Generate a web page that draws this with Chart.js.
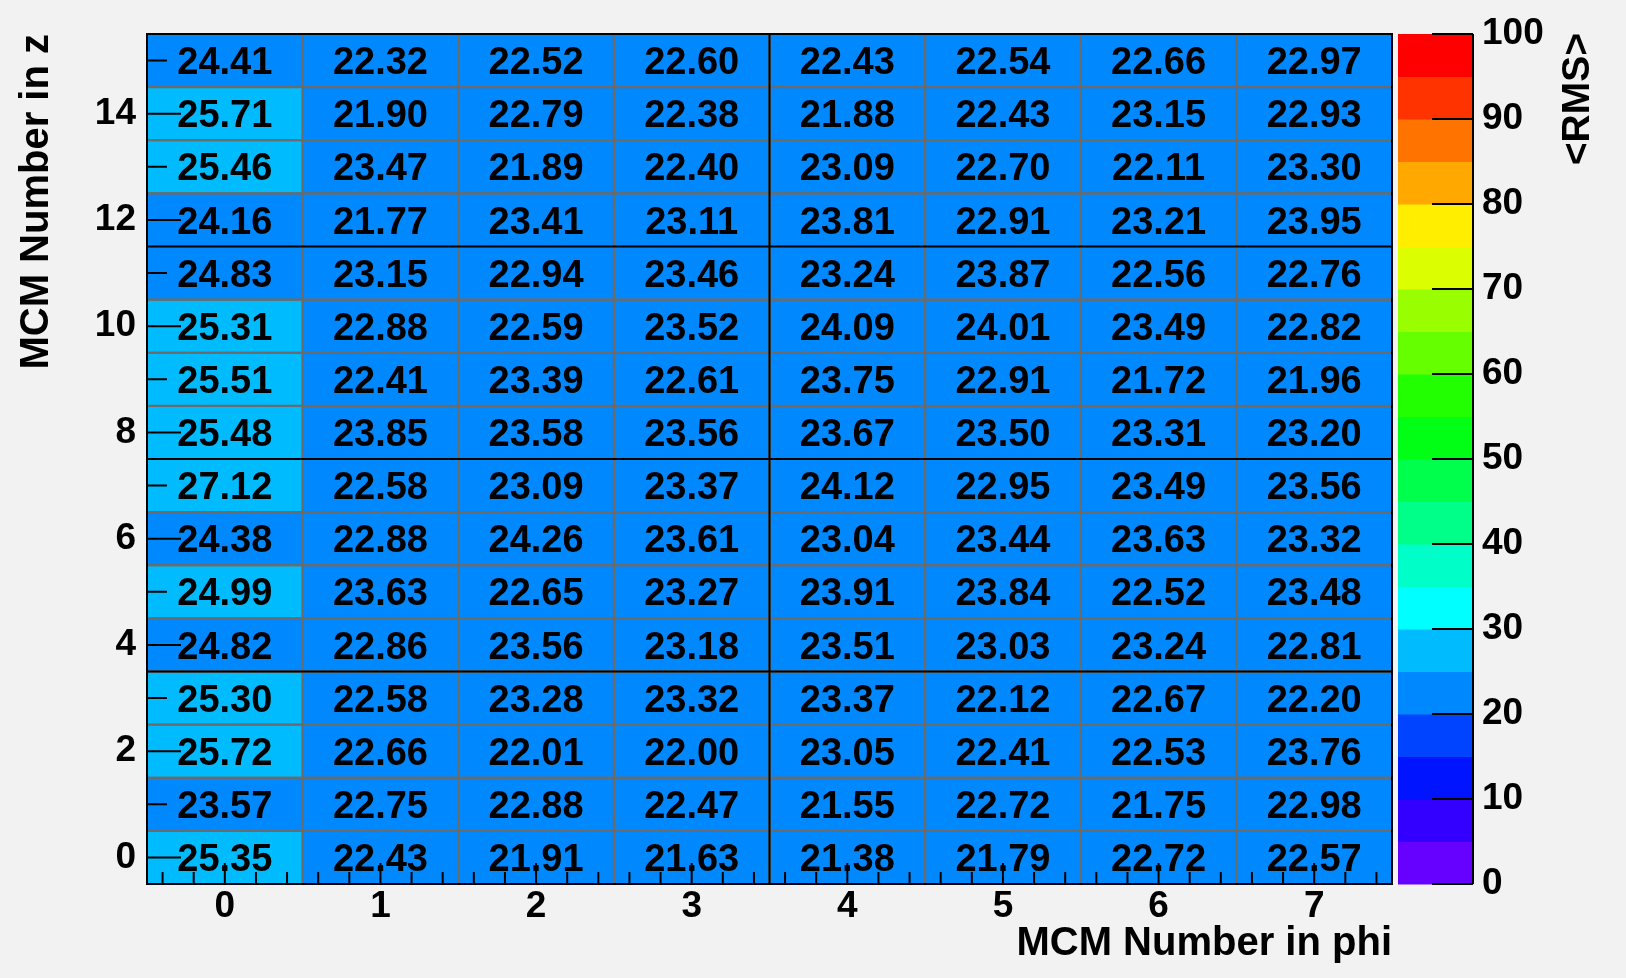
<!DOCTYPE html>
<html>
<head>
<meta charset="utf-8">
<title>MCM RMS map</title>
<script src="https://cdn.jsdelivr.net/npm/chart.js@4.4.1/dist/chart.umd.min.js"></script>
<style>
  html, body { margin: 0; padding: 0; background: #f2f2f2; }
</style>
</head>
<body>
<canvas id="rmsMap" width="1626" height="978"></canvas>
<script>
const phiBins = [0, 1, 2, 3, 4, 5, 6, 7];
const zBins = [0, 1, 2, 3, 4, 5, 6, 7, 8, 9, 10, 11, 12, 13, 14, 15];

// <RMS> per MCM, one row per z, phi 0..7
const z15 = [24.41, 22.32, 22.52, 22.60, 22.43, 22.54, 22.66, 22.97];
const z14 = [25.71, 21.90, 22.79, 22.38, 21.88, 22.43, 23.15, 22.93];
const z13 = [25.46, 23.47, 21.89, 22.40, 23.09, 22.70, 22.11, 23.30];
const z12 = [24.16, 21.77, 23.41, 23.11, 23.81, 22.91, 23.21, 23.95];
const z11 = [24.83, 23.15, 22.94, 23.46, 23.24, 23.87, 22.56, 22.76];
const z10 = [25.31, 22.88, 22.59, 23.52, 24.09, 24.01, 23.49, 22.82];
const z9  = [25.51, 22.41, 23.39, 22.61, 23.75, 22.91, 21.72, 21.96];
const z8  = [25.48, 23.85, 23.58, 23.56, 23.67, 23.50, 23.31, 23.20];
const z7  = [27.12, 22.58, 23.09, 23.37, 24.12, 22.95, 23.49, 23.56];
const z6  = [24.38, 22.88, 24.26, 23.61, 23.04, 23.44, 23.63, 23.32];
const z5  = [24.99, 23.63, 22.65, 23.27, 23.91, 23.84, 22.52, 23.48];
const z4  = [24.82, 22.86, 23.56, 23.18, 23.51, 23.03, 23.24, 22.81];
const z3  = [25.30, 22.58, 23.28, 23.32, 23.37, 22.12, 22.67, 22.20];
const z2  = [25.72, 22.66, 22.01, 22.00, 23.05, 22.41, 22.53, 23.76];
const z1  = [23.57, 22.75, 22.88, 22.47, 21.55, 22.72, 21.75, 22.98];
const z0  = [25.35, 22.43, 21.91, 21.63, 21.38, 21.79, 22.72, 22.57];
const rmsByZ = [z0, z1, z2, z3, z4, z5, z6, z7, z8, z9, z10, z11, z12, z13, z14, z15];

// labelled ticks
const phiTicks = [0, 1, 2, 3, 4, 5, 6, 7];
const zTicks = [0, 2, 4, 6, 8, 10, 12, 14];
const rmsTicks = [0, 10, 20, 30, 40, 50, 60, 70, 80, 90, 100];

const rmsMin = 0;
const rmsMax = 100;
const nLevels = 20;

// rainbow palette, one colour per contour level
const palette = [
  '#6600ff', '#3300ff', '#0014ff', '#0044ff', '#0088ff',
  '#00bcff', '#00ffff', '#00ffc8', '#00ff88', '#00ff4c',
  '#00ff14', '#22ff00', '#66ff00', '#99ff00', '#dcff00',
  '#ffee00', '#ffa800', '#ff7400', '#ff3300', '#ff0000'
];

function levelOf(v) {
  const lvl = Math.floor(0.01 + (v - rmsMin) * nLevels / (rmsMax - rmsMin));
  return Math.max(0, Math.min(nLevels - 1, lvl));
}

const FONT = '"Liberation Sans", Arial, sans-serif';

const points = [];
zBins.forEach((z, iz) => {
  phiBins.forEach((phi, ip) => {
    points.push({ x: phi, y: z, v: rmsByZ[iz][ip] });
  });
});

const fixedTicks = list => scale => { scale.ticks = list.map(v => ({ value: v })); };

const mapPlugin = {
  id: 'mcmMap',
  beforeDatasetsDraw(chart) {
    const ctx = chart.ctx;
    const { x, y, rms } = chart.scales;
    const area = chart.chartArea;
    const cells = chart.data.datasets[0].data;
    ctx.save();

    // cells
    cells.forEach(p => {
      const x0 = x.getPixelForValue(p.x - 0.5), x1 = x.getPixelForValue(p.x + 0.5);
      const y0 = y.getPixelForValue(p.y + 0.5), y1 = y.getPixelForValue(p.y - 0.5);
      ctx.fillStyle = palette[levelOf(p.v)];
      ctx.fillRect(x0, y0, x1 - x0, y1 - y0);
    });
    ctx.strokeStyle = '#6b6b6b';
    ctx.lineWidth = 2;
    cells.forEach(p => {
      const x0 = x.getPixelForValue(p.x - 0.5), x1 = x.getPixelForValue(p.x + 0.5);
      const y0 = y.getPixelForValue(p.y + 0.5), y1 = y.getPixelForValue(p.y - 0.5);
      ctx.strokeRect(x0, y0, x1 - x0, y1 - y0);
    });

    // chamber boundaries
    ctx.strokeStyle = '#000';
    ctx.lineWidth = 2;
    ctx.beginPath();
    [3.5, 7.5, 11.5].forEach(zb => {
      const py = y.getPixelForValue(zb);
      ctx.moveTo(area.left, py); ctx.lineTo(area.right, py);
    });
    const px = x.getPixelForValue(3.5);
    ctx.moveTo(px, area.top); ctx.lineTo(px, area.bottom);
    ctx.stroke();

    // values
    ctx.fillStyle = '#000';
    ctx.font = 'bold 38px ' + FONT;
    ctx.textAlign = 'center';
    ctx.textBaseline = 'alphabetic';
    cells.forEach(p => {
      ctx.fillText(p.v.toFixed(2), x.getPixelForValue(p.x), y.getPixelForValue(p.y) + 13.6);
    });

    // frame
    ctx.strokeStyle = '#000';
    ctx.lineWidth = 2;
    ctx.strokeRect(area.left, area.top, area.right - area.left, area.bottom - area.top);

    // inner ticks
    ctx.beginPath();
    zBins.forEach(z => {
      const py = y.getPixelForValue(z);
      ctx.moveTo(area.left, py);
      ctx.lineTo(area.left + (z % 2 === 0 ? 34 : 20), py);
    });
    for (let i = -2; i <= 37; i++) {
      const pxt = x.getPixelForValue(i / 5);
      ctx.moveTo(pxt, area.bottom);
      ctx.lineTo(pxt, area.bottom - (i % 5 === 0 ? 21 : 12));
    }
    ctx.stroke();

    // colour scale
    const barLeft = area.right + 6;
    const barRight = area.right + 81;
    for (let i = 0; i < nLevels; i++) {
      const lo = rmsMin + i * (rmsMax - rmsMin) / nLevels;
      const hi = rmsMin + (i + 1) * (rmsMax - rmsMin) / nLevels;
      const yTop = rms.getPixelForValue(hi), yBot = rms.getPixelForValue(lo);
      ctx.fillStyle = palette[i];
      ctx.fillRect(barLeft, yTop, barRight - barLeft, yBot - yTop + 0.5);
    }
    ctx.strokeStyle = '#000';
    ctx.lineWidth = 2;
    ctx.beginPath();
    ctx.moveTo(barRight, rms.getPixelForValue(rmsMax));
    ctx.lineTo(barRight, rms.getPixelForValue(rmsMin));
    rms.ticks.forEach(t => {
      const py = rms.getPixelForValue(t.value);
      ctx.moveTo(barRight, py);
      ctx.lineTo(barRight - 41, py);
    });
    ctx.stroke();

    // colour scale title, reading upwards
    ctx.save();
    ctx.translate(1578, area.top - 1);
    ctx.rotate(-Math.PI / 2);
    ctx.fillStyle = '#000';
    ctx.font = 'bold 39px ' + FONT;
    ctx.textAlign = 'right';
    ctx.textBaseline = 'middle';
    ctx.fillText('<RMS>', 0, 0);
    ctx.restore();

    ctx.restore();
  }
};

new Chart(document.getElementById('rmsMap'), {
  type: 'scatter',
  data: {
    datasets: [{
      data: points,
      pointRadius: 0,
      pointHoverRadius: 0
    }]
  },
  options: {
    responsive: false,
    animation: false,
    events: [],
    layout: { padding: { left: 0, top: 34, right: 0, bottom: 0 } },
    plugins: { legend: { display: false }, tooltip: { enabled: false } },
    scales: {
      x: {
        type: 'linear',
        position: 'bottom',
        min: -0.5,
        max: 7.5,
        grid: { display: false },
        border: { display: false },
        afterBuildTicks: fixedTicks(phiTicks),
        ticks: {
          padding: -7,
          color: '#000',
          font: { family: FONT, weight: 'bold', size: 37 }
        },
        title: {
          display: true,
          text: 'MCM Number in phi',
          align: 'end',
          color: '#000',
          font: { family: FONT, weight: 'bold', size: 40 },
          padding: { top: 0, bottom: 10 }
        },
        afterFit: s => { s.height = 94; }
      },
      y: {
        type: 'linear',
        position: 'left',
        min: -0.5,
        max: 15.5,
        grid: { display: false },
        border: { display: false },
        afterBuildTicks: fixedTicks(zTicks),
        ticks: {
          padding: 3,
          color: '#000',
          font: { family: FONT, weight: 'bold', size: 37 }
        },
        title: {
          display: true,
          text: 'MCM Number in z',
          align: 'end',
          color: '#000',
          font: { family: FONT, weight: 'bold', size: 40 },
          padding: { top: 13, bottom: 0 }
        },
        afterFit: s => { s.width = 147; }
      },
      rms: {
        type: 'linear',
        position: 'right',
        min: rmsMin,
        max: rmsMax,
        grid: { display: true, drawOnChartArea: false, tickLength: 81, tickColor: 'rgba(0,0,0,0)' },
        border: { display: false },
        afterBuildTicks: fixedTicks(rmsTicks),
        ticks: {
          padding: 9,
          color: '#000',
          font: { family: FONT, weight: 'bold', size: 37 }
        },
        afterFit: s => { s.width = 234; }
      }
    }
  },
  plugins: [mapPlugin]
});
</script>
</body>
</html>
